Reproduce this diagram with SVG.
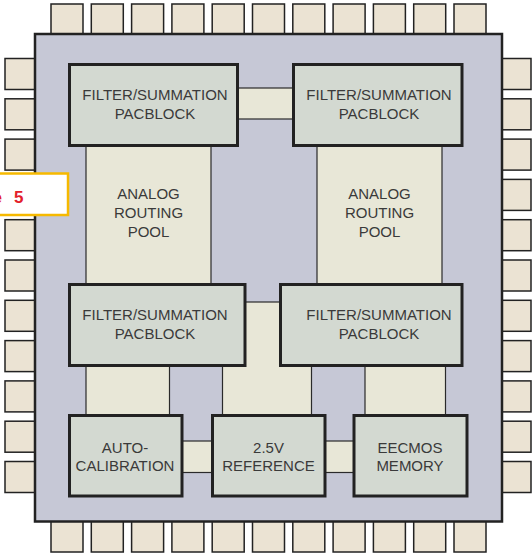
<svg xmlns="http://www.w3.org/2000/svg" width="532" height="556" viewBox="0 0 532 556">
<style>
.pin{fill:#ebe3d3;stroke:#222;stroke-width:1.5}
.chip{fill:#c6c8d6;stroke:#222;stroke-width:2.5}
.blk{fill:#d3d9d1;stroke:#222;stroke-width:3}
.pool{fill:#e8e7d7;stroke:#2a2a2a;stroke-width:1.2}
.t{font-family:"Liberation Sans",Arial,sans-serif;font-size:15px;fill:#3a3a3a;text-anchor:middle}
</style>
<rect width="532" height="556" fill="#fff"/>
<g id="pins">
<rect class="pin" x="51" y="4" width="32" height="30"/><rect class="pin" x="91.3" y="4" width="32" height="30"/><rect class="pin" x="131.6" y="4" width="32" height="30"/><rect class="pin" x="171.9" y="4" width="32" height="30"/><rect class="pin" x="212.2" y="4" width="32" height="30"/><rect class="pin" x="252.5" y="4" width="32" height="30"/><rect class="pin" x="292.8" y="4" width="32" height="30"/><rect class="pin" x="333.1" y="4" width="32" height="30"/><rect class="pin" x="373.4" y="4" width="32" height="30"/><rect class="pin" x="413.7" y="4" width="32" height="30"/><rect class="pin" x="454" y="4" width="32" height="30"/>
<rect class="pin" x="51" y="521" width="32" height="31"/><rect class="pin" x="91.3" y="521" width="32" height="31"/><rect class="pin" x="131.6" y="521" width="32" height="31"/><rect class="pin" x="171.9" y="521" width="32" height="31"/><rect class="pin" x="212.2" y="521" width="32" height="31"/><rect class="pin" x="252.5" y="521" width="32" height="31"/><rect class="pin" x="292.8" y="521" width="32" height="31"/><rect class="pin" x="333.1" y="521" width="32" height="31"/><rect class="pin" x="373.4" y="521" width="32" height="31"/><rect class="pin" x="413.7" y="521" width="32" height="31"/><rect class="pin" x="454" y="521" width="32" height="31"/>
<rect class="pin" x="5" y="58.5" width="31" height="31"/><rect class="pin" x="5" y="98.8" width="31" height="31"/><rect class="pin" x="5" y="139.1" width="31" height="31"/><rect class="pin" x="5" y="179.4" width="31" height="31"/><rect class="pin" x="5" y="219.7" width="31" height="31"/><rect class="pin" x="5" y="260" width="31" height="31"/><rect class="pin" x="5" y="300.3" width="31" height="31"/><rect class="pin" x="5" y="340.6" width="31" height="31"/><rect class="pin" x="5" y="380.9" width="31" height="31"/><rect class="pin" x="5" y="421.2" width="31" height="31"/><rect class="pin" x="5" y="461.5" width="31" height="31"/>
<rect class="pin" x="501" y="58.5" width="30" height="31"/><rect class="pin" x="501" y="98.8" width="30" height="31"/><rect class="pin" x="501" y="139.1" width="30" height="31"/><rect class="pin" x="501" y="179.4" width="30" height="31"/><rect class="pin" x="501" y="219.7" width="30" height="31"/><rect class="pin" x="501" y="260" width="30" height="31"/><rect class="pin" x="501" y="300.3" width="30" height="31"/><rect class="pin" x="501" y="340.6" width="30" height="31"/><rect class="pin" x="501" y="380.9" width="30" height="31"/><rect class="pin" x="501" y="421.2" width="30" height="31"/><rect class="pin" x="501" y="461.5" width="30" height="31"/>
</g>
<rect id="chip" class="chip" x="35" y="34" width="467" height="487.5"/>
<g id="connectors">
<rect class="pool" x="237" y="88" width="56" height="31"/>
<rect class="pool" x="86" y="146" width="125" height="138"/>
<rect class="pool" x="317" y="146" width="125" height="138"/>
<rect class="pool" x="222.5" y="302" width="89" height="113"/>
<rect class="pool" x="86" y="365" width="83.5" height="50"/>
<rect class="pool" x="365" y="365" width="80.5" height="50"/>
<rect class="pool" x="182" y="441" width="30" height="31.5"/>
<rect class="pool" x="325" y="441" width="29" height="31.5"/>
</g>
<g id="pool-left"><text class="t" x="148.5" y="198.5">ANALOG</text><text class="t" x="148.5" y="217.5">ROUTING</text><text class="t" x="148.5" y="236.5">POOL</text></g>
<g id="pool-right"><text class="t" x="379.5" y="198.5">ANALOG</text><text class="t" x="379.5" y="217.5">ROUTING</text><text class="t" x="379.5" y="236.5">POOL</text></g>
<g id="filter-tl"><rect class="blk" x="69.5" y="64.5" width="168" height="81"/><text class="t" x="155" y="100">FILTER/SUMMATION</text><text class="t" x="155" y="119">PACBLOCK</text></g>
<g id="filter-tr"><rect class="blk" x="293.5" y="64.5" width="168.5" height="81"/><text class="t" x="379" y="100">FILTER/SUMMATION</text><text class="t" x="379" y="119">PACBLOCK</text></g>
<g id="filter-ml"><rect class="blk" x="69.5" y="284.5" width="175.5" height="81"/><text class="t" x="155" y="319.5">FILTER/SUMMATION</text><text class="t" x="155" y="338.5">PACBLOCK</text></g>
<g id="filter-mr"><rect class="blk" x="280.5" y="284.5" width="181.5" height="81"/><text class="t" x="379" y="319.5">FILTER/SUMMATION</text><text class="t" x="379" y="338.5">PACBLOCK</text></g>
<g id="autocal"><rect class="blk" x="69.5" y="415.5" width="112.5" height="80.5"/><text class="t" x="125" y="452.5">AUTO-</text><text class="t" x="125" y="471">CALIBRATION</text></g>
<g id="reference"><rect class="blk" x="212.5" y="415.5" width="112.5" height="80.5"/><text class="t" x="268.5" y="452.5">2.5V</text><text class="t" x="268.5" y="471">REFERENCE</text></g>
<g id="eecmos"><rect class="blk" x="354" y="415.5" width="113" height="80.5"/><text class="t" x="410" y="452.5">EECMOS</text><text class="t" x="410" y="471">MEMORY</text></g>
<g id="label"><rect x="-3" y="173.5" width="71" height="41.5" fill="#fff" stroke="#f6b900" stroke-width="2.5"/><text x="-7.5" y="203" font-family="Liberation Sans,Arial,sans-serif" font-weight="bold" font-size="17" fill="#e3202a">e<tspan x="14">5</tspan></text></g>
</svg>
